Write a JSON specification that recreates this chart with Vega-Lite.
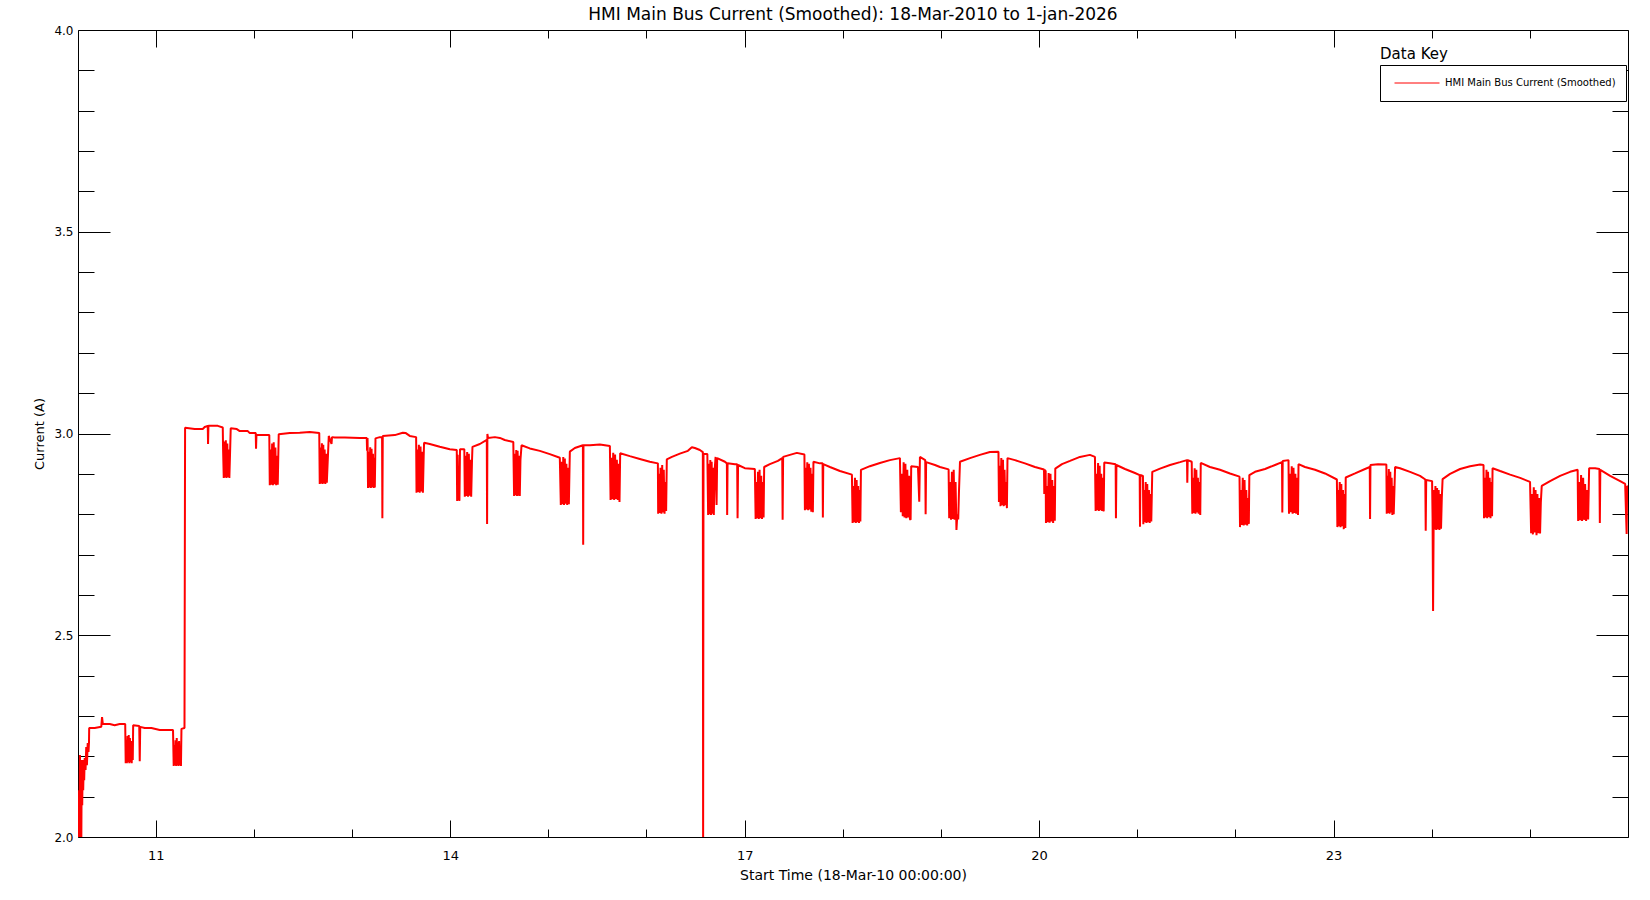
{
"$schema": "https://vega.github.io/schema/vega-lite/v6.json",
"width": 1550, "height": 807,
"autosize": {"type": "none"},
"padding": {"left": 78, "top": 30, "right": 22, "bottom": 63},
"background": "white",
"title": {"text": "HMI Main Bus Current (Smoothed): 18-Mar-2010 to 1-jan-2026", "font": "DejaVu Sans", "fontSize": 17, "fontWeight": "normal", "color": "black", "offset": 0, "anchor": "middle"},
"config": {"view": {"stroke": "black", "strokeWidth": 1}, "axis": {"grid": false, "domain": false, "labelColor": "black", "tickColor": "black", "tickWidth": 1, "titleColor": "black", "labelFont": "DejaVu Sans", "titleFont": "DejaVu Sans", "titleFontWeight": "normal"}},
"datasets": {
"key": [{"t": 23.474, "a": 3.927, "label": "Data Key"}],
"hmi": [
{"t":10.209,"a":2.000},{"t":10.211,"a":2.047},{"t":10.215,"a":2.000},{"t":10.219,"a":2.116},{"t":10.223,"a":2.000},{"t":10.228,"a":2.203},{"t":10.233,"a":2.017},{"t":10.238,"a":2.191},{"t":10.242,"a":2.000},{"t":10.246,"a":2.183},{"t":10.251,"a":2.079},{"t":10.256,"a":2.191},{"t":10.261,"a":2.116},{"t":10.266,"a":2.178},{"t":10.271,"a":2.141},{"t":10.276,"a":2.196},{"t":10.285,"a":2.166},{"t":10.292,"a":2.223},{"t":10.299,"a":2.178},{"t":10.307,"a":2.233},{"t":10.315,"a":2.211},{"t":10.320,"a":2.235},{"t":10.322,"a":2.270},{"t":10.378,"a":2.270},{"t":10.445,"a":2.273},{"t":10.453,"a":2.297},{"t":10.461,"a":2.280},{"t":10.531,"a":2.280},{"t":10.582,"a":2.277},{"t":10.633,"a":2.280},{"t":10.689,"a":2.280},
{"t":10.694,"a":2.183},{"t":10.700,"a":2.240},{"t":10.706,"a":2.183},{"t":10.713,"a":2.250},{"t":10.719,"a":2.186},{"t":10.725,"a":2.253},{"t":10.731,"a":2.183},{"t":10.737,"a":2.245},{"t":10.743,"a":2.186},{"t":10.749,"a":2.238},{"t":10.755,"a":2.183},{"t":10.761,"a":2.228},{"t":10.766,"a":2.191},
{"t":10.770,"a":2.277},{"t":10.832,"a":2.275},{"t":10.837,"a":2.188},{"t":10.842,"a":2.273},{"t":10.888,"a":2.270},{"t":10.956,"a":2.270},{"t":11.041,"a":2.265},{"t":11.176,"a":2.265},
{"t":11.183,"a":2.176},{"t":11.189,"a":2.228},{"t":11.196,"a":2.178},{"t":11.202,"a":2.240},{"t":11.208,"a":2.176},{"t":11.214,"a":2.245},{"t":11.220,"a":2.178},{"t":11.226,"a":2.235},{"t":11.232,"a":2.176},{"t":11.238,"a":2.238},{"t":11.244,"a":2.178},{"t":11.251,"a":2.221},{"t":11.257,"a":2.176},
{"t":11.262,"a":2.268},{"t":11.293,"a":2.270},{"t":11.299,"a":3.014},{"t":11.397,"a":3.011},{"t":11.479,"a":3.011},{"t":11.499,"a":3.016},{"t":11.530,"a":3.019},{"t":11.533,"a":2.974},{"t":11.537,"a":3.019},{"t":11.632,"a":3.019},{"t":11.683,"a":3.015},
{"t":11.686,"a":2.962},{"t":11.693,"a":2.890},{"t":11.700,"a":2.980},{"t":11.707,"a":2.891},{"t":11.714,"a":2.983},{"t":11.722,"a":2.890},{"t":11.729,"a":2.975},{"t":11.736,"a":2.892},{"t":11.743,"a":2.960},{"t":11.750,"a":2.890},{"t":11.757,"a":2.950},
{"t":11.764,"a":3.013},{"t":11.826,"a":3.011},{"t":11.856,"a":3.006},{"t":11.938,"a":3.006},{"t":11.958,"a":3.001},{"t":12.019,"a":3.001},{"t":12.022,"a":2.962},{"t":12.026,"a":2.996},{"t":12.141,"a":2.996},{"t":12.157,"a":2.996},
{"t":12.162,"a":2.872},{"t":12.170,"a":2.960},{"t":12.178,"a":2.873},{"t":12.186,"a":2.975},{"t":12.194,"a":2.872},{"t":12.202,"a":2.978},{"t":12.211,"a":2.874},{"t":12.219,"a":2.965},{"t":12.227,"a":2.872},{"t":12.235,"a":2.945},{"t":12.243,"a":2.873},
{"t":12.253,"a":2.998},{"t":12.366,"a":3.001},{"t":12.467,"a":3.002},{"t":12.569,"a":3.004},{"t":12.666,"a":3.001},
{"t":12.671,"a":2.875},{"t":12.678,"a":2.965},{"t":12.686,"a":2.876},{"t":12.693,"a":2.976},{"t":12.700,"a":2.875},{"t":12.707,"a":2.972},{"t":12.714,"a":2.877},{"t":12.721,"a":2.960},{"t":12.728,"a":2.875},{"t":12.735,"a":2.950},{"t":12.743,"a":2.878},
{"t":12.763,"a":2.994},{"t":12.791,"a":2.974},{"t":12.796,"a":2.991},{"t":12.824,"a":2.990},{"t":12.926,"a":2.990},{"t":13.079,"a":2.989},{"t":13.150,"a":2.989},{"t":13.153,"a":2.957},{"t":13.158,"a":2.989},
{"t":13.163,"a":2.865},{"t":13.171,"a":2.955},{"t":13.178,"a":2.866},{"t":13.185,"a":2.966},{"t":13.192,"a":2.865},{"t":13.199,"a":2.962},{"t":13.206,"a":2.867},{"t":13.213,"a":2.950},{"t":13.221,"a":2.865},{"t":13.228,"a":2.940},{"t":13.232,"a":2.866},
{"t":13.239,"a":2.988},{"t":13.283,"a":2.991},{"t":13.306,"a":2.991},{"t":13.309,"a":2.790},{"t":13.313,"a":2.994},{"t":13.436,"a":2.996},{"t":13.517,"a":3.002},{"t":13.548,"a":3.001},{"t":13.588,"a":2.994},{"t":13.653,"a":2.991},
{"t":13.657,"a":2.853},{"t":13.665,"a":2.960},{"t":13.673,"a":2.855},{"t":13.681,"a":2.972},{"t":13.689,"a":2.853},{"t":13.698,"a":2.968},{"t":13.706,"a":2.856},{"t":13.714,"a":2.955},{"t":13.722,"a":2.853},{"t":13.730,"a":2.945},
{"t":13.734,"a":2.977},{"t":13.792,"a":2.974},{"t":13.894,"a":2.967},{"t":13.996,"a":2.961},{"t":14.067,"a":2.959},{"t":14.071,"a":2.833},{"t":14.076,"a":2.947},{"t":14.082,"a":2.835},{"t":14.088,"a":2.910},{"t":14.094,"a":2.833},{"t":14.100,"a":2.961},{"t":14.144,"a":2.961},
{"t":14.149,"a":2.843},{"t":14.157,"a":2.945},{"t":14.165,"a":2.845},{"t":14.173,"a":2.954},{"t":14.182,"a":2.843},{"t":14.190,"a":2.950},{"t":14.198,"a":2.846},{"t":14.206,"a":2.935},{"t":14.214,"a":2.843},{"t":14.222,"a":2.930},
{"t":14.227,"a":2.967},{"t":14.302,"a":2.974},{"t":14.373,"a":2.984},{"t":14.376,"a":2.776},{"t":14.379,"a":2.999},{"t":14.385,"a":2.989},{"t":14.455,"a":2.991},{"t":14.506,"a":2.989},{"t":14.556,"a":2.984},{"t":14.643,"a":2.979},
{"t":14.651,"a":2.845},{"t":14.659,"a":2.950},{"t":14.666,"a":2.847},{"t":14.673,"a":2.959},{"t":14.680,"a":2.845},{"t":14.687,"a":2.957},{"t":14.694,"a":2.846},{"t":14.701,"a":2.945},{"t":14.709,"a":2.845},{"t":14.716,"a":2.935},
{"t":14.727,"a":2.971},{"t":14.811,"a":2.963},{"t":14.913,"a":2.957},{"t":15.015,"a":2.949},{"t":15.117,"a":2.940},
{"t":15.127,"a":2.823},{"t":15.135,"a":2.930},{"t":15.144,"a":2.825},{"t":15.152,"a":2.942},{"t":15.160,"a":2.823},{"t":15.168,"a":2.938},{"t":15.176,"a":2.826},{"t":15.184,"a":2.925},{"t":15.192,"a":2.823},{"t":15.201,"a":2.915},{"t":15.209,"a":2.825},
{"t":15.219,"a":2.955},{"t":15.270,"a":2.964},{"t":15.352,"a":2.971},{"t":15.355,"a":2.724},{"t":15.358,"a":2.971},{"t":15.423,"a":2.971},{"t":15.525,"a":2.973},{"t":15.627,"a":2.969},
{"t":15.634,"a":2.835},{"t":15.643,"a":2.940},{"t":15.652,"a":2.837},{"t":15.661,"a":2.952},{"t":15.671,"a":2.835},{"t":15.680,"a":2.948},{"t":15.689,"a":2.838},{"t":15.698,"a":2.935},{"t":15.707,"a":2.835},{"t":15.716,"a":2.925},{"t":15.725,"a":2.830},
{"t":15.732,"a":2.951},{"t":15.830,"a":2.944},{"t":15.932,"a":2.937},{"t":16.034,"a":2.930},{"t":16.116,"a":2.926},
{"t":16.119,"a":2.801},{"t":16.127,"a":2.900},{"t":16.135,"a":2.803},{"t":16.143,"a":2.915},{"t":16.152,"a":2.801},{"t":16.160,"a":2.922},{"t":16.168,"a":2.804},{"t":16.176,"a":2.910},{"t":16.184,"a":2.801},{"t":16.192,"a":2.880},{"t":16.200,"a":2.808},
{"t":16.207,"a":2.936},{"t":16.259,"a":2.942},{"t":16.340,"a":2.950},{"t":16.422,"a":2.957},{"t":16.462,"a":2.966},{"t":16.493,"a":2.964},{"t":16.544,"a":2.959},{"t":16.574,"a":2.954},{"t":16.577,"a":2.000},{"t":16.581,"a":2.949},{"t":16.620,"a":2.949},
{"t":16.628,"a":2.798},{"t":16.636,"a":2.925},{"t":16.643,"a":2.800},{"t":16.650,"a":2.934},{"t":16.657,"a":2.798},{"t":16.664,"a":2.930},{"t":16.671,"a":2.801},{"t":16.678,"a":2.915},{"t":16.686,"a":2.798},{"t":16.693,"a":2.905},
{"t":16.704,"a":2.942},{"t":16.714,"a":2.823},{"t":16.720,"a":2.939},{"t":16.799,"a":2.930},{"t":16.819,"a":2.926},{"t":16.822,"a":2.798},{"t":16.826,"a":2.926},{"t":16.901,"a":2.924},{"t":16.924,"a":2.924},{"t":16.928,"a":2.790},{"t":16.933,"a":2.922},{"t":17.002,"a":2.914},{"t":17.104,"a":2.912},
{"t":17.112,"a":2.788},{"t":17.120,"a":2.880},{"t":17.128,"a":2.790},{"t":17.136,"a":2.905},{"t":17.144,"a":2.788},{"t":17.152,"a":2.910},{"t":17.160,"a":2.790},{"t":17.169,"a":2.895},{"t":17.177,"a":2.788},{"t":17.185,"a":2.880},{"t":17.193,"a":2.792},
{"t":17.199,"a":2.917},{"t":17.257,"a":2.924},{"t":17.339,"a":2.932},{"t":17.383,"a":2.939},{"t":17.387,"a":2.786},{"t":17.392,"a":2.942},{"t":17.461,"a":2.947},{"t":17.532,"a":2.952},{"t":17.609,"a":2.948},
{"t":17.614,"a":2.810},{"t":17.622,"a":2.915},{"t":17.630,"a":2.812},{"t":17.638,"a":2.929},{"t":17.647,"a":2.810},{"t":17.655,"a":2.925},{"t":17.663,"a":2.812},{"t":17.671,"a":2.915},{"t":17.679,"a":2.806},{"t":17.687,"a":2.900},{"t":17.695,"a":2.805},
{"t":17.701,"a":2.930},{"t":17.767,"a":2.926},{"t":17.794,"a":2.926},{"t":17.797,"a":2.792},{"t":17.801,"a":2.924},{"t":17.869,"a":2.917},{"t":17.971,"a":2.907},{"t":18.093,"a":2.898},
{"t":18.100,"a":2.778},{"t":18.108,"a":2.870},{"t":18.116,"a":2.780},{"t":18.124,"a":2.890},{"t":18.133,"a":2.778},{"t":18.141,"a":2.885},{"t":18.149,"a":2.780},{"t":18.157,"a":2.870},{"t":18.165,"a":2.778},{"t":18.173,"a":2.860},{"t":18.179,"a":2.782},
{"t":18.185,"a":2.910},{"t":18.276,"a":2.919},{"t":18.378,"a":2.927},{"t":18.480,"a":2.934},{"t":18.582,"a":2.939},
{"t":18.592,"a":2.805},{"t":18.601,"a":2.900},{"t":18.611,"a":2.795},{"t":18.620,"a":2.929},{"t":18.629,"a":2.792},{"t":18.638,"a":2.925},{"t":18.647,"a":2.790},{"t":18.657,"a":2.910},{"t":18.666,"a":2.792},{"t":18.675,"a":2.895},{"t":18.684,"a":2.788},{"t":18.691,"a":2.786},
{"t":18.697,"a":2.919},{"t":18.766,"a":2.917},{"t":18.779,"a":2.831},{"t":18.786,"a":2.942},{"t":18.840,"a":2.934},{"t":18.844,"a":2.800},{"t":18.849,"a":2.929},{"t":18.939,"a":2.922},{"t":18.990,"a":2.917},{"t":19.078,"a":2.911},
{"t":19.084,"a":2.790},{"t":19.094,"a":2.880},{"t":19.103,"a":2.786},{"t":19.112,"a":2.905},{"t":19.121,"a":2.788},{"t":19.130,"a":2.910},{"t":19.139,"a":2.786},{"t":19.149,"a":2.880},{"t":19.158,"a":2.761},{"t":19.167,"a":2.800},{"t":19.176,"a":2.787},{"t":19.183,"a":2.850},
{"t":19.194,"a":2.930},{"t":19.296,"a":2.939},{"t":19.397,"a":2.947},{"t":19.499,"a":2.954},{"t":19.586,"a":2.955},
{"t":19.591,"a":2.830},{"t":19.599,"a":2.920},{"t":19.607,"a":2.820},{"t":19.615,"a":2.939},{"t":19.624,"a":2.822},{"t":19.632,"a":2.935},{"t":19.640,"a":2.820},{"t":19.648,"a":2.910},{"t":19.656,"a":2.822},{"t":19.664,"a":2.880},{"t":19.672,"a":2.815},
{"t":19.678,"a":2.939},{"t":19.754,"a":2.934},{"t":19.856,"a":2.926},{"t":19.958,"a":2.917},{"t":20.050,"a":2.911},{"t":20.053,"a":2.850},{"t":20.057,"a":2.910},{"t":20.067,"a":2.907},
{"t":20.070,"a":2.778},{"t":20.079,"a":2.870},{"t":20.088,"a":2.780},{"t":20.097,"a":2.902},{"t":20.107,"a":2.779},{"t":20.116,"a":2.900},{"t":20.125,"a":2.782},{"t":20.134,"a":2.885},{"t":20.143,"a":2.778},{"t":20.152,"a":2.870},{"t":20.160,"a":2.784},
{"t":20.165,"a":2.913},{"t":20.233,"a":2.924},{"t":20.315,"a":2.932},{"t":20.416,"a":2.942},{"t":20.518,"a":2.947},{"t":20.569,"a":2.942},
{"t":20.576,"a":2.808},{"t":20.585,"a":2.900},{"t":20.593,"a":2.810},{"t":20.601,"a":2.927},{"t":20.609,"a":2.808},{"t":20.617,"a":2.920},{"t":20.625,"a":2.810},{"t":20.633,"a":2.900},{"t":20.642,"a":2.808},{"t":20.650,"a":2.890},{"t":20.658,"a":2.807},
{"t":20.664,"a":2.928},{"t":20.722,"a":2.926},{"t":20.780,"a":2.924},{"t":20.783,"a":2.790},{"t":20.788,"a":2.922},{"t":20.875,"a":2.912},{"t":20.977,"a":2.902},{"t":21.025,"a":2.897},{"t":21.028,"a":2.769},{"t":21.032,"a":2.897},{"t":21.058,"a":2.895},
{"t":21.062,"a":2.775},{"t":21.070,"a":2.860},{"t":21.078,"a":2.780},{"t":21.086,"a":2.880},{"t":21.094,"a":2.778},{"t":21.102,"a":2.875},{"t":21.110,"a":2.780},{"t":21.119,"a":2.860},{"t":21.127,"a":2.778},{"t":21.135,"a":2.850},{"t":21.143,"a":2.782},
{"t":21.153,"a":2.905},{"t":21.232,"a":2.913},{"t":21.334,"a":2.922},{"t":21.436,"a":2.929},{"t":21.507,"a":2.934},{"t":21.510,"a":2.878},{"t":21.514,"a":2.934},{"t":21.555,"a":2.930},
{"t":21.561,"a":2.801},{"t":21.569,"a":2.890},{"t":21.577,"a":2.803},{"t":21.585,"a":2.914},{"t":21.593,"a":2.801},{"t":21.602,"a":2.910},{"t":21.610,"a":2.804},{"t":21.618,"a":2.890},{"t":21.626,"a":2.801},{"t":21.634,"a":2.880},{"t":21.642,"a":2.798},
{"t":21.647,"a":2.927},{"t":21.741,"a":2.917},{"t":21.843,"a":2.910},{"t":21.945,"a":2.901},{"t":22.042,"a":2.893},
{"t":22.047,"a":2.768},{"t":22.056,"a":2.860},{"t":22.065,"a":2.773},{"t":22.075,"a":2.890},{"t":22.084,"a":2.772},{"t":22.093,"a":2.885},{"t":22.102,"a":2.774},{"t":22.111,"a":2.860},{"t":22.120,"a":2.772},{"t":22.129,"a":2.840},{"t":22.137,"a":2.776},
{"t":22.142,"a":2.897},{"t":22.200,"a":2.905},{"t":22.302,"a":2.912},{"t":22.404,"a":2.922},{"t":22.475,"a":2.929},{"t":22.478,"a":2.804},{"t":22.482,"a":2.932},{"t":22.541,"a":2.934},
{"t":22.546,"a":2.801},{"t":22.556,"a":2.900},{"t":22.565,"a":2.805},{"t":22.574,"a":2.919},{"t":22.583,"a":2.801},{"t":22.592,"a":2.915},{"t":22.601,"a":2.803},{"t":22.611,"a":2.900},{"t":22.620,"a":2.801},{"t":22.629,"a":2.890},{"t":22.638,"a":2.798},
{"t":22.643,"a":2.924},{"t":22.709,"a":2.917},{"t":22.811,"a":2.910},{"t":22.913,"a":2.901},{"t":23.034,"a":2.886},
{"t":23.039,"a":2.768},{"t":23.047,"a":2.860},{"t":23.055,"a":2.770},{"t":23.063,"a":2.880},{"t":23.071,"a":2.768},{"t":23.079,"a":2.875},{"t":23.088,"a":2.770},{"t":23.096,"a":2.860},{"t":23.104,"a":2.763},{"t":23.112,"a":2.850},{"t":23.120,"a":2.766},
{"t":23.124,"a":2.891},{"t":23.219,"a":2.901},{"t":23.321,"a":2.912},{"t":23.369,"a":2.917},{"t":23.372,"a":2.788},{"t":23.376,"a":2.922},{"t":23.453,"a":2.924},{"t":23.538,"a":2.923},
{"t":23.542,"a":2.801},{"t":23.549,"a":2.895},{"t":23.556,"a":2.803},{"t":23.563,"a":2.912},{"t":23.571,"a":2.801},{"t":23.578,"a":2.905},{"t":23.585,"a":2.804},{"t":23.592,"a":2.890},{"t":23.599,"a":2.798},{"t":23.606,"a":2.870},{"t":23.613,"a":2.800},
{"t":23.627,"a":2.917},{"t":23.677,"a":2.914},{"t":23.779,"a":2.905},{"t":23.881,"a":2.895},{"t":23.935,"a":2.886},{"t":23.939,"a":2.759},{"t":23.944,"a":2.885},{"t":24.004,"a":2.882},
{"t":24.009,"a":2.790},{"t":24.014,"a":2.560},{"t":24.022,"a":2.860},{"t":24.030,"a":2.762},{"t":24.038,"a":2.870},{"t":24.047,"a":2.761},{"t":24.055,"a":2.865},{"t":24.063,"a":2.763},{"t":24.071,"a":2.860},{"t":24.079,"a":2.761},{"t":24.087,"a":2.850},{"t":24.095,"a":2.764},{"t":24.103,"a":2.840},
{"t":24.111,"a":2.887},{"t":24.187,"a":2.900},{"t":24.289,"a":2.912},{"t":24.391,"a":2.919},{"t":24.493,"a":2.923},{"t":24.528,"a":2.922},
{"t":24.533,"a":2.790},{"t":24.542,"a":2.890},{"t":24.550,"a":2.792},{"t":24.558,"a":2.910},{"t":24.566,"a":2.790},{"t":24.574,"a":2.905},{"t":24.583,"a":2.793},{"t":24.591,"a":2.890},{"t":24.599,"a":2.790},{"t":24.607,"a":2.880},{"t":24.615,"a":2.795},
{"t":24.620,"a":2.914},{"t":24.697,"a":2.907},{"t":24.799,"a":2.898},{"t":24.901,"a":2.890},{"t":25.002,"a":2.880},
{"t":25.013,"a":2.753},{"t":25.022,"a":2.850},{"t":25.031,"a":2.750},{"t":25.040,"a":2.867},{"t":25.049,"a":2.755},{"t":25.058,"a":2.860},{"t":25.068,"a":2.748},{"t":25.077,"a":2.850},{"t":25.086,"a":2.753},{"t":25.095,"a":2.840},{"t":25.104,"a":2.752},{"t":25.112,"a":2.830},
{"t":25.121,"a":2.870},{"t":25.206,"a":2.882},{"t":25.308,"a":2.895},{"t":25.410,"a":2.905},{"t":25.487,"a":2.910},
{"t":25.492,"a":2.783},{"t":25.502,"a":2.880},{"t":25.512,"a":2.785},{"t":25.522,"a":2.897},{"t":25.532,"a":2.783},{"t":25.543,"a":2.890},{"t":25.553,"a":2.786},{"t":25.563,"a":2.875},{"t":25.573,"a":2.783},{"t":25.583,"a":2.860},{"t":25.594,"a":2.787},
{"t":25.604,"a":2.914},{"t":25.665,"a":2.914},{"t":25.709,"a":2.912},{"t":25.713,"a":2.778},{"t":25.718,"a":2.910},{"t":25.818,"a":2.895},{"t":25.920,"a":2.882},{"t":25.971,"a":2.875},{"t":25.986,"a":2.751},{"t":25.991,"a":2.870},{"t":26.000,"a":2.867}
]
},
"resolve": {"axis": {"x": "independent", "y": "independent"}},
"layer": [
{
"data": {"name": "hmi"},
"mark": {"type": "line", "strokeWidth": 2, "strokeJoin": "bevel", "clip": true},
"encoding": {
"x": {"field": "t", "type": "quantitative", "scale": {"domain": [10.208, 26.0], "nice": false, "zero": false},
 "axis": {"orient": "bottom", "values": [11, 14, 17, 20, 23], "ticks": false, "labelPadding": 12, "labelFontSize": 13, "title": "Start Time (18-Mar-10 00:00:00)", "titleFontSize": 14, "titlePadding": 6}},
"y": {"field": "a", "type": "quantitative", "scale": {"domain": [2, 4], "nice": false, "zero": false},
 "axis": {"orient": "left", "values": [2, 2.5, 3, 3.5, 4], "format": ".1f", "ticks": false, "labelPadding": 5, "labelFontSize": 12, "title": "Current (A)", "titleFontSize": 13, "titlePadding": 7}},
"color": {"datum": "HMI Main Bus Current (Smoothed)", "type": "nominal", "scale": {"range": ["#ff0000"]},
 "legend": {"orient": "none", "legendX": 1302, "legendY": 35, "title": null, "strokeColor": "black", "fillColor": "white", "padding": 10, "symbolType": "stroke", "symbolSize": 2025, "symbolStrokeWidth": 1, "symbolOffset": 4, "labelOffset": 5, "labelLimit": 400, "clipHeight": 16, "labelFont": "DejaVu Sans", "labelFontSize": 10, "labelColor": "black"}}
}
},
{
"data": {"name": "key"},
"mark": {"type": "text", "font": "DejaVu Sans", "fontSize": 15, "align": "left", "baseline": "alphabetic", "color": "black"},
"encoding": {
"x": {"field": "t", "type": "quantitative", "scale": {"domain": [10.208, 26.0], "nice": false, "zero": false},
 "axis": {"orient": "bottom", "values": [11, 14, 17, 20, 23], "tickSize": -17, "labels": false, "title": null}},
"y": {"field": "a", "type": "quantitative", "scale": {"domain": [2, 4], "nice": false, "zero": false},
 "axis": {"orient": "left", "values": [2, 2.5, 3, 3.5, 4], "tickSize": -32, "labels": false, "title": null}},
"text": {"field": "label"}
}
},
{
"data": {"values": []},
"mark": {"type": "point"},
"encoding": {
"x": {"field": "t", "type": "quantitative", "scale": {"domain": [10.208, 26.0], "nice": false, "zero": false},
 "axis": {"orient": "bottom", "values": [11,12,13,14,15,16,17,18,19,20,21,22,23,24,25], "tickSize": -8, "labels": false, "title": null}},
"y": {"field": "a", "type": "quantitative", "scale": {"domain": [2, 4], "nice": false, "zero": false},
 "axis": {"orient": "left", "values": [2.1,2.2,2.3,2.4,2.6,2.7,2.8,2.9,3.1,3.2,3.3,3.4,3.6,3.7,3.8,3.9], "tickSize": -16, "labels": false, "title": null}}
}
},
{
"data": {"values": []},
"mark": {"type": "point"},
"encoding": {
"x": {"field": "t", "type": "quantitative", "scale": {"domain": [10.208, 26.0], "nice": false, "zero": false},
 "axis": {"orient": "top", "values": [11, 14, 17, 20, 23], "tickSize": -17, "labels": false, "title": null}},
"y": {"field": "a", "type": "quantitative", "scale": {"domain": [2, 4], "nice": false, "zero": false},
 "axis": {"orient": "right", "values": [2, 2.5, 3, 3.5, 4], "tickSize": -32, "labels": false, "title": null}}
}
},
{
"data": {"values": []},
"mark": {"type": "point"},
"encoding": {
"x": {"field": "t", "type": "quantitative", "scale": {"domain": [10.208, 26.0], "nice": false, "zero": false},
 "axis": {"orient": "top", "values": [11,12,13,14,15,16,17,18,19,20,21,22,23,24,25], "tickSize": -8, "labels": false, "title": null}},
"y": {"field": "a", "type": "quantitative", "scale": {"domain": [2, 4], "nice": false, "zero": false},
 "axis": {"orient": "right", "values": [2.1,2.2,2.3,2.4,2.6,2.7,2.8,2.9,3.1,3.2,3.3,3.4,3.6,3.7,3.8,3.9], "tickSize": -16, "labels": false, "title": null}}
}
}
]
}
